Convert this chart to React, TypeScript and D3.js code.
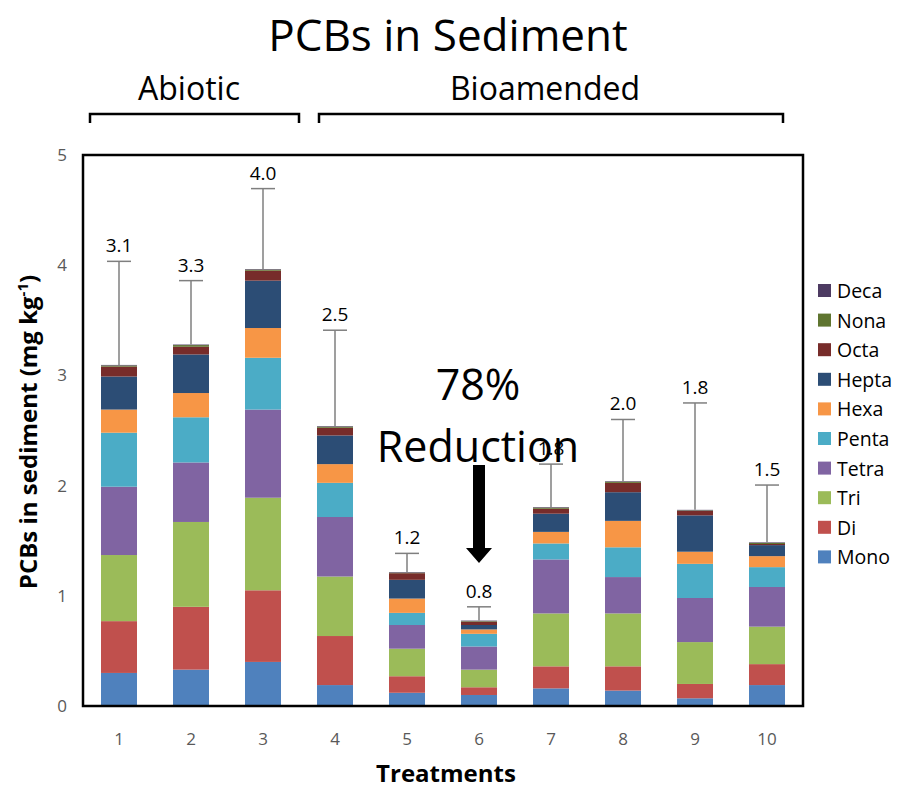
import React from "react";
import * as d3 from "d3";

const treatments = ["1", "2", "3", "4", "5", "6", "7", "8", "9", "10"];
const seriesNames = ["Mono", "Di", "Tri", "Tetra", "Penta", "Hexa", "Hepta", "Octa", "Nona", "Deca"];
const seriesColors = ["#4F81BD", "#C0504D", "#9BBB59", "#8064A2", "#4BACC6", "#F79646", "#2C4D75", "#772C2A", "#5F7530", "#4D3B62"];

const mono = [0.30, 0.33, 0.40, 0.19, 0.12, 0.10, 0.16, 0.14, 0.07, 0.19];
const di = [0.47, 0.57, 0.65, 0.445, 0.15, 0.07, 0.20, 0.22, 0.13, 0.19];
const tri = [0.60, 0.77, 0.84, 0.54, 0.25, 0.16, 0.48, 0.48, 0.38, 0.34];
const tetra = [0.62, 0.54, 0.80, 0.54, 0.215, 0.21, 0.49, 0.33, 0.40, 0.36];
const penta = [0.49, 0.41, 0.47, 0.31, 0.11, 0.115, 0.145, 0.27, 0.31, 0.18];
const hexa = [0.21, 0.22, 0.27, 0.17, 0.13, 0.04, 0.105, 0.24, 0.11, 0.10];
const hepta = [0.30, 0.35, 0.43, 0.26, 0.17, 0.04, 0.165, 0.26, 0.33, 0.10];
const octa = [0.09, 0.07, 0.09, 0.07, 0.06, 0.03, 0.045, 0.085, 0.04, 0.01];
const nona = [0.01, 0.015, 0.01, 0.01, 0.005, 0.005, 0.01, 0.01, 0.005, 0.01];
const deca = [0.005, 0.005, 0.005, 0.005, 0.005, 0.005, 0.005, 0.005, 0.005, 0.005];
const errors = [0.94, 0.58, 0.73, 0.87, 0.17, 0.125, 0.39, 0.56, 0.97, 0.52];
const totalLabels = ["3.1", "3.3", "4.0", "2.5", "1.2", "0.8", "1.8", "2.0", "1.8", "1.5"];
const yTicks = [0, 1, 2, 3, 4, 5];

const seriesValues = [mono, di, tri, tetra, penta, hexa, hepta, octa, nona, deca];

const FONT = "'Open Sans', 'Noto Sans', sans-serif";

export default function App() {
  const x = d3.scaleBand<string>().domain(treatments).range([83, 803]).paddingInner(0.5).paddingOuter(0.25);
  const y = d3.scaleLinear().domain([0, 5]).range([706, 155]);

  const rows = treatments.map((t, i) => {
    const r: any = { t };
    seriesNames.forEach((s, k) => (r[s] = seriesValues[k][i]));
    return r;
  });
  const stacked = d3.stack<any>().keys(seriesNames)(rows);
  const totals = treatments.map((_, i) => d3.sum(seriesValues, (s) => s[i]));

  const bw = x.bandwidth();
  const capW = 24;

  return (
    <svg width={901} height={788} style={{ position: "absolute", left: 0, top: 0, background: "#fff" }} fontFamily={FONT}>
      <rect width={901} height={788} fill="#fff" />
      <text x={448} y={51} textAnchor="middle" fontSize={44} fill="#000">PCBs in Sediment</text>
      <text x={189} y={100} textAnchor="middle" fontSize={32} fill="#000">Abiotic</text>
      <text x={545} y={100} textAnchor="middle" fontSize={32} fill="#000">Bioamended</text>
      <path d="M90,123V114H299V123" fill="none" stroke="#000" strokeWidth={2.5} />
      <path d="M319,123V114H783V123" fill="none" stroke="#000" strokeWidth={2.5} />

      {stacked.map((layer, k) => (
        <g key={seriesNames[k]} fill={seriesColors[k]}>
          {layer.map((d, i) => (
            <rect key={i} x={x(treatments[i])} y={y(d[1])} width={bw} height={Math.max(0, y(d[0]) - y(d[1]))} />
          ))}
        </g>
      ))}

      {treatments.map((t, i) => {
        const cx = (x(t) as number) + bw / 2;
        const top = y(totals[i] + errors[i]);
        return (
          <g key={"e" + t}>
            <line x1={cx} x2={cx} y1={y(totals[i])} y2={top} stroke="#7f7f7f" strokeWidth={1.5} />
            <line x1={cx - capW / 2} x2={cx + capW / 2} y1={top} y2={top} stroke="#7f7f7f" strokeWidth={1.5} />
            <text x={cx} y={top - 9} textAnchor="middle" fontSize={19} fill="#000">{totalLabels[i]}</text>
          </g>
        );
      })}

      <rect x={83} y={155} width={720} height={551} fill="none" stroke="#000" strokeWidth={2.5} />

      {yTicks.map((v) => (
        <text key={"y" + v} x={62} y={y(v) + 6} textAnchor="middle" fontSize={17} fill="#595959">{v}</text>
      ))}
      {treatments.map((t) => (
        <text key={"x" + t} x={(x(t) as number) + bw / 2} y={745} textAnchor="middle" fontSize={17} fill="#595959">{t}</text>
      ))}

      <text x={446} y={782} textAnchor="middle" fontSize={24} fontWeight="bold" fill="#000">Treatments</text>
      <text transform="translate(37,432) rotate(-90)" textAnchor="middle" fontSize={24} fontWeight="bold" fill="#000">
        PCBs in sediment (mg kg<tspan dy={-9} fontSize={15}>-1</tspan><tspan dy={9}>)</tspan>
      </text>

      <text x={478} y={400} textAnchor="middle" fontSize={43} fill="#000">78%</text>
      <text x={478} y={462} textAnchor="middle" fontSize={43} fill="#000">Reduction</text>
      <path d="M473,465H485V548H492L479,563L466,548H473Z" fill="#000" />

      {seriesNames.slice().reverse().map((s, j) => {
        const k = seriesNames.length - 1 - j;
        const cy = 291 + j * 29.6;
        return (
          <g key={"l" + s}>
            <rect x={818} y={cy - 7} width={13} height={13} fill={seriesColors[k]} />
            <text x={837} y={cy + 7} fontSize={19.5} fill="#000">{s}</text>
          </g>
        );
      })}
    </svg>
  );
}
